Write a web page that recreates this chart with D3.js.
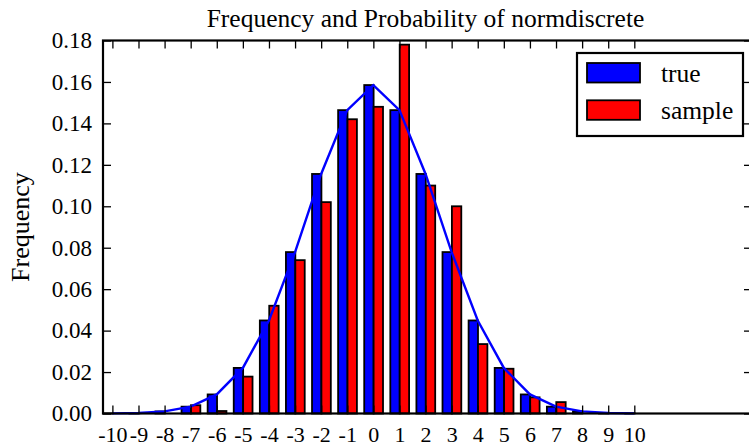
<!DOCTYPE html>
<html><head><meta charset="utf-8">
<script src="https://cdn.jsdelivr.net/npm/d3@7"></script>
<style>body{margin:0;background:#fff}svg{display:block}text{font-family:"Liberation Serif","Times New Roman",serif}</style>
</head><body>
<svg id="c" width="749" height="448"></svg>
<script>
const categories = [-10,-9,-8,-7,-6,-5,-4,-3,-2,-1,0,1,2,3,4,5,6,7,8,9,10];
const trueValues = [0.00006,0.00026,0.0010,0.0033,0.0092,0.0220,0.0449,0.0779,0.1156,0.1464,0.1585,0.1464,0.1156,0.0779,0.0449,0.0220,0.0092,0.0033,0.0010,0.00026,0.00006];
const sampleValues = [0,0,0,0.004,0.0012,0.0178,0.052,0.074,0.102,0.142,0.148,0.178,0.110,0.100,0.0335,0.0216,0.0078,0.0055,0,0,0];
const yTicks = [0,0.02,0.04,0.06,0.08,0.10,0.12,0.14,0.16,0.18];
const xTicks = categories;
const seriesNames = ["true","sample"];
const seriesColors = ["#0000ff","#ff0000"];

const svg = d3.select("#c");
const L=103, R=752, T=40.5, B=413.5;
const x = d3.scaleLinear().domain([-10.36,14.51]).range([L,R]);
const y = d3.scaleLinear().domain([0,0.18]).range([B,T]);
const bw = 0.36, off = 0.01;
const fmtX = d => (d<0?"-":"")+Math.abs(d);

// bars
const g = svg.append("g");
g.selectAll("rect.t").data(categories).join("rect")
 .attr("x", (d)=>x(d-bw+off)).attr("width", (d)=>x(d+off)-x(d-bw+off))
 .attr("y", (d,i)=>y(trueValues[i])).attr("height",(d,i)=>y(0)-y(trueValues[i]))
 .attr("fill",seriesColors[0]).attr("stroke","#000").attr("stroke-width",1.8);
g.selectAll("rect.s").data(categories).join("rect")
 .attr("x", (d)=>x(d+off)).attr("width", (d)=>x(d+bw+off)-x(d+off))
 .attr("y", (d,i)=>y(sampleValues[i])).attr("height",(d,i)=>y(0)-y(sampleValues[i]))
 .attr("fill",seriesColors[1]).attr("stroke","#000").attr("stroke-width",1.8);

// line
svg.append("path").datum(categories)
 .attr("d", d3.line().x(d=>x(d)).y((d,i)=>y(trueValues[i])))
 .attr("fill","none").attr("stroke","#0000ff").attr("stroke-width",2.4);

// axes
const tl = 8;
const ax = svg.append("g").attr("transform",`translate(0,${B})`).call(d3.axisBottom(x).tickValues(xTicks).tickFormat(fmtX).tickSizeInner(-tl).tickSizeOuter(0).tickPadding(13));
const axT = svg.append("g").attr("transform",`translate(0,${T})`).call(d3.axisTop(x).tickValues(xTicks).tickFormat("").tickSizeInner(-tl).tickSizeOuter(0));
const ay = svg.append("g").attr("transform",`translate(${L},0)`).call(d3.axisLeft(y).tickValues(yTicks).tickFormat(d3.format(".2f")).tickSizeInner(-tl).tickSizeOuter(0).tickPadding(11));
const ayR = svg.append("g").attr("transform",`translate(${R},0)`).call(d3.axisRight(y).tickValues(yTicks).tickFormat("").tickSizeInner(-tl).tickSizeOuter(0));
[ax,axT,ay,ayR].forEach(a=>{a.select(".domain").remove();a.selectAll("line").attr("stroke","#000").attr("stroke-width",1.3);a.selectAll("text").attr("fill","#000").style("font-size","23px");});
ax.selectAll("text").style("font-size","22px").attr("dy","0.71em");
// frame
svg.append("rect").attr("x",L).attr("y",T).attr("width",R-L).attr("height",B-T).attr("fill","none").attr("stroke","#000").attr("stroke-width",2.2);

// title & label
svg.append("text").attr("x",(L+R)/2 - 2).attr("y",26.5).attr("text-anchor","middle").style("font-size","25.5px").text("Frequency and Probability of normdiscrete");
svg.append("text").attr("transform",`translate(29,${(T+B)/2}) rotate(-90)`).attr("text-anchor","middle").style("font-size","26px").text("Frequency");

// legend
const lg = svg.append("g");
lg.append("rect").attr("x",577).attr("y",53).attr("width",166).attr("height",83).attr("fill","#fff").attr("stroke","#000").attr("stroke-width",2.2);
seriesNames.forEach((n,i)=>{
  const yy = 63 + i*37.3;
  lg.append("rect").attr("x",587).attr("y",yy).attr("width",53).attr("height",19.5).attr("fill",seriesColors[i]).attr("stroke","#000").attr("stroke-width",1.8);
  lg.append("text").attr("x",661).attr("y",yy+18.5).style("font-size","25.5px").text(n);
});
</script>
</body></html>
